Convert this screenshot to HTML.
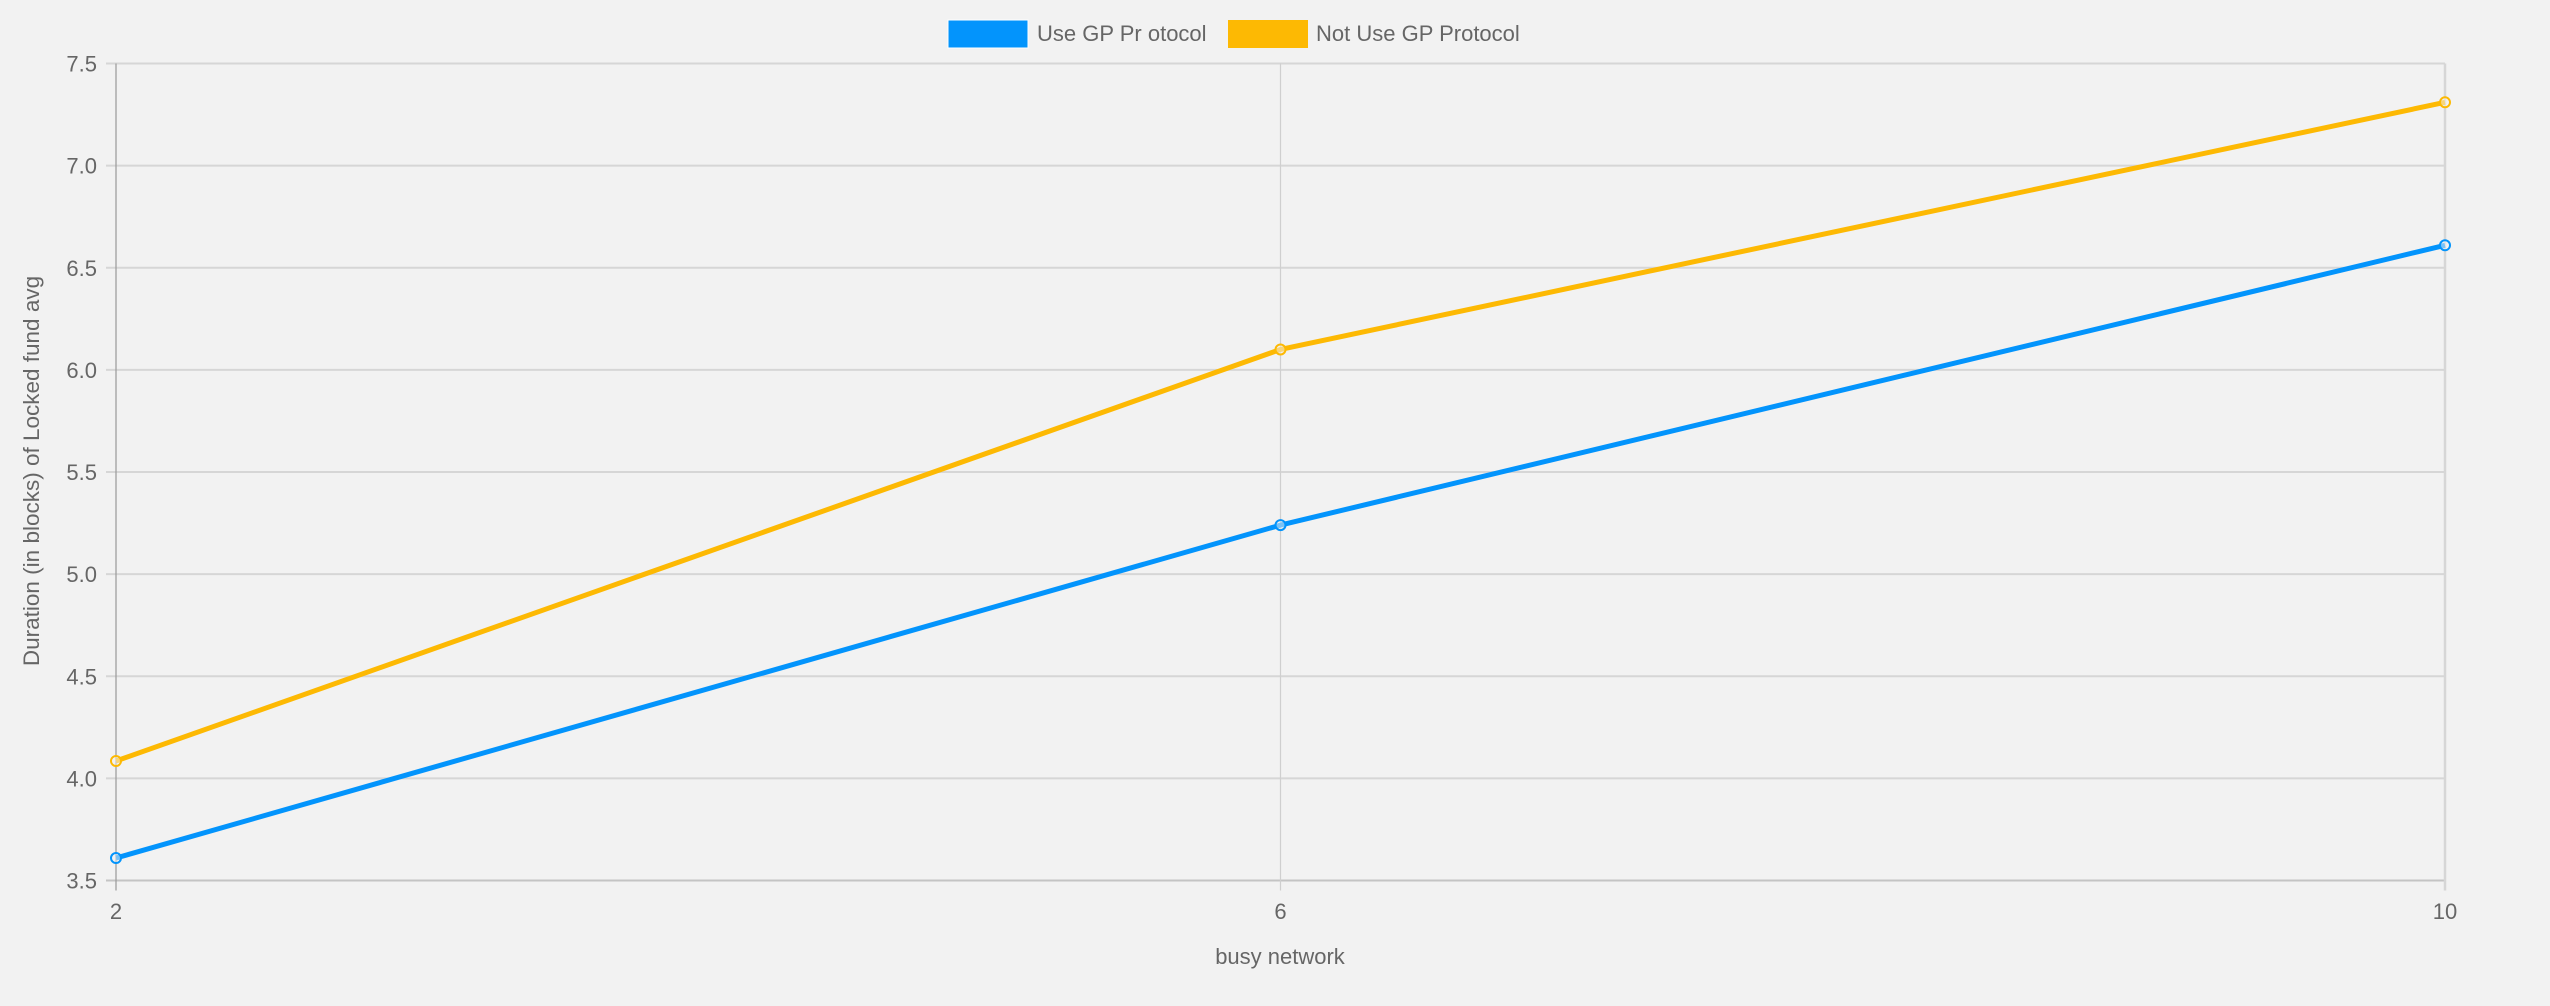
<!DOCTYPE html>
<html><head><meta charset="utf-8"><style>
html,body{margin:0;padding:0;background:#f2f2f2;}
svg{display:block;font-family:"Liberation Sans",Arial,sans-serif;}
</style></head><body>
<svg id="chart" width="2550" height="1006" xmlns="http://www.w3.org/2000/svg">
<rect width="2550" height="1006" fill="#f2f2f2"/>
<g>
  <g>
    <rect x="948" y="20" width="80" height="28" fill="#0394fc" stroke="#ffffff" stroke-width="1"/>
    <text x="1037" y="41" font-size="22" fill="#666">Use GP Pr otocol</text>
  </g>
  <g>
    <rect x="1228" y="20" width="80" height="28" fill="#fdb903"/>
    <text x="1316" y="41" font-size="22" fill="#666">Not Use GP Protocol</text>
  </g>
</g>
<g id="grid"></g>
<g id="axes"></g>
<g id="series"></g>
<text transform="translate(39,471) rotate(-90)" text-anchor="middle" font-size="22.5" fill="#666">Duration (in blocks) of Locked fund avg</text>
<text x="1280" y="964" text-anchor="middle" font-size="22" fill="#666">busy network</text>
</svg>
<script>
const categories = ["2","6","10"];
const useGP = [3.61, 5.24, 6.61];
const notUseGP = [4.085, 6.10, 7.31];
const yTicks = [3.5,4.0,4.5,5.0,5.5,6.0,6.5,7.0,7.5];
const yMin = 3.5, yMax = 7.5;

const L=116, R=2445, T=63.5, B=880.5;
const NS="http://www.w3.org/2000/svg";
function xPos(i){return L+(R-L)*i/(categories.length-1);}
function yPos(v){return B-(v-yMin)/(yMax-yMin)*(B-T);}
function mk(tag,attrs,parent){const e=document.createElementNS(NS,tag);for(const k in attrs)e.setAttribute(k,attrs[k]);parent.appendChild(e);return e;}
const grid=document.getElementById('grid'), axes=document.getElementById('axes'), series=document.getElementById('series');

yTicks.forEach(v=>{
  const y=yPos(v);
  const ln=mk('line',{x1:106,x2:R,y1:y,y2:y,stroke:v===yMin?'#c4c4c4':'#d6d6d6','stroke-width':2},grid);
  
  
  const t=mk('text',{x:97,y:y+8,'text-anchor':'end','font-size':22,fill:'#666'},axes);
  t.textContent=v.toFixed(1);
  
  
});
categories.forEach((c,i)=>{
  const x=xPos(i);
  const ln=mk('line',{x1:x,x2:x,y1:T,y2:B+10,stroke:i===0?'#999':(i===categories.length-1?'#d6d6d6':'#cfcfcf'),'stroke-width':i===categories.length-1?2.5:1.2},grid);
  
  
  const t=mk('text',{x:x,y:919,'text-anchor':'middle','font-size':22,fill:'#666'},axes);
  t.textContent=c;
  
  
});

function drawSeries(vals,color,name){
  const g=mk('g',{},series);
  
  
  const pts=vals.map((v,i)=>xPos(i)+','+yPos(v)).join(' ');
  const pl=mk('polyline',{points:pts,fill:'none',stroke:color,'stroke-width':5,'stroke-linejoin':'round'},g);
  
  
  vals.forEach((v,i)=>{
    const c=mk('circle',{cx:xPos(i),cy:yPos(v),r:5,fill:'#f2f2f2','fill-opacity':0.5,stroke:color,'stroke-width':2},g);
    
    
  });
}
drawSeries(notUseGP,'#fdb903','not-use-gp-series');
drawSeries(useGP,'#0394fc','use-gp-series');
</script>
</body></html>
